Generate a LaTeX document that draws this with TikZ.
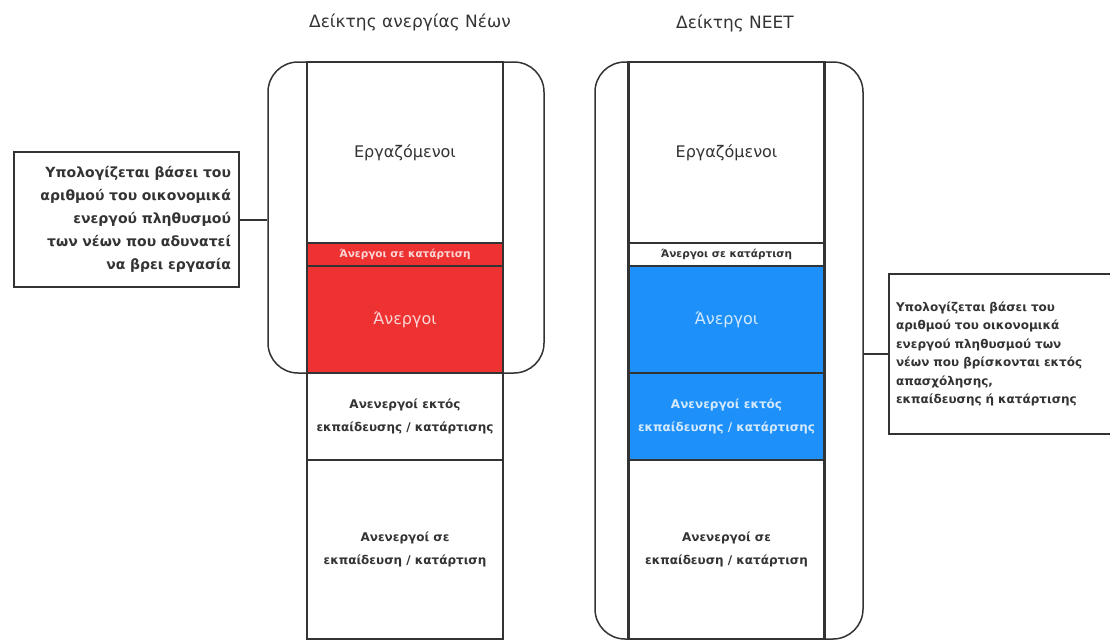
\documentclass[tikz,border=0pt]{standalone}
\usepackage{fontspec}
\setmainfont{DejaVu Sans}
\usetikzlibrary{positioning,fit}
\definecolor{ink}{HTML}{333333}
\definecolor{unemp}{HTML}{EE3232}
\definecolor{neet}{HTML}{1E90FA}

\begin{document}
\begin{tikzpicture}[x=1pt, y=-1pt,
		seg/.style={draw=ink, line width=1.6pt, outer sep=0pt, inner sep=2pt, minimum width=196pt, align=center, text=ink, font=\bfseries\fontsize{12}{23}\selectfont},
		nseg/.style={seg, line width=2.4pt},
		big/.style={font=\fontsize{16}{20}\selectfont},
		small/.style={font=\bfseries\fontsize{10.5}{12}\selectfont},
		frame/.style={draw=ink, line width=1.5pt, rounded corners=30pt, inner ysep=0pt},
		note/.style={draw=ink, line width=2pt, text=ink, font=\bfseries\fontsize{14}{23}\selectfont},
		title/.style={text=ink, font=\fontsize{17}{20}\selectfont},
		wire/.style={draw=ink, line width=2pt}
	]
	\useasboundingbox (0,0) rectangle (1110,640);

	% youth unemployment rate
	\node[seg, big, minimum height=181pt, anchor=north] (lwork) at (405,62) {Εργαζόμενοι};
	\node[seg, small, fill=unemp, text=white!80!unemp, minimum height=23pt, below=0pt of lwork] (ltrain) {Άνεργοι σε κατάρτιση};
	\node[seg, big, fill=unemp, text=white!80!unemp, minimum height=107pt, below=0pt of ltrain] (lunemp) {Άνεργοι};
	\node[seg, minimum height=87pt, below=0pt of lunemp] (lidle) {Ανενεργοί εκτός\\εκπαίδευσης / κατάρτισης};
	\node[seg, minimum height=179pt, below=0pt of lidle] (lstudy) {Ανενεργοί σε\\εκπαίδευση / κατάρτιση};
	\node[frame, fit=(lwork)(lunemp), inner xsep=40pt, xshift=1pt] (lframe) {};

	% NEET rate
	\node[nseg, big, minimum height=181pt, anchor=north] (rwork) at (726.5,62) {Εργαζόμενοι};
	\node[nseg, small, minimum height=23pt, below=0pt of rwork] (rtrain) {Άνεργοι σε κατάρτιση};
	\node[nseg, big, fill=neet, text=white!80!neet, minimum height=107pt, below=0pt of rtrain] (runemp) {Άνεργοι};
	\node[nseg, fill=neet, text=white!80!neet, minimum height=87pt, below=0pt of runemp] (ridle) {Ανενεργοί εκτός\\εκπαίδευσης / κατάρτισης};
	\node[nseg, minimum height=179pt, below=0pt of ridle] (rstudy) {Ανενεργοί σε\\εκπαίδευση / κατάρτιση};
	\node[frame, fit=(rwork)(rstudy), inner xsep=36pt, xshift=2.5pt] (rframe) {};

	\node[title] (ltitle) at (410,22) {Δείκτης ανεργίας Νέων};
	\node[title] (rtitle) at (735,23) {Δείκτης NEET};

	% notes
	\node[note, align=right, text width=209pt, inner xsep=8pt, minimum height=135pt, anchor=north west] (lnote) at (13,151)
		{Υπολογίζεται βάσει του\\αριθμού του οικονομικά\\ενεργού πληθυσμού\\των νέων που αδυνατεί\\να βρει εργασία};
	\node[note, font=\bfseries\fontsize{12}{18.5}\selectfont, align=left, text width=240pt, inner xsep=7pt, minimum height=160pt, anchor=north west] (rnote) at (888,273)
		{Υπολογίζεται βάσει του\\αριθμού του οικονομικά\\ενεργού πληθυσμού των\\νέων που βρίσκονται εκτός\\απασχόλησης,\\εκπαίδευσης ή κατάρτισης};

	\draw[wire] (lnote.east) -- (lnote.east -| lframe.west);
	\draw[wire] (rnote.west -| rframe.east) -- (rnote.west);
\end{tikzpicture}
\end{document}
